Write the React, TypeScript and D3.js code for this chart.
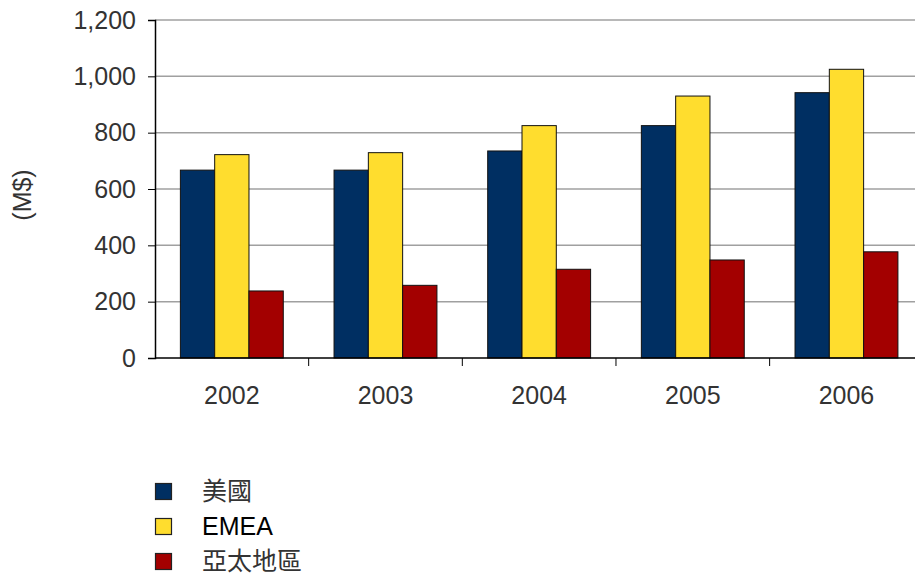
import React, { useRef, useEffect } from "react";
import * as d3 from "d3";

const years = ["2002", "2003", "2004", "2005", "2006"];
const seriesNames = ["美國", "EMEA", "亞太地區"];
const usValues = [667, 667, 735, 825, 942];
const emeaValues = [722, 729, 825, 930, 1025];
const apacValues = [238, 258, 315, 348, 377];
const yTicks = [0, 200, 400, 600, 800, 1000, 1200];
const colors = ["#002f62", "#ffdd2e", "#a30000"];

const W = 915;
const H = 583;

export default function App() {
  const svgRef = useRef<SVGSVGElement>(null);

  useEffect(() => {
    const svg = d3.select(svgRef.current);
    svg.selectAll("*").remove();

    const left = 155;
    const top = 20;
    const bottom = 358;
    const right = 923.3;
    const font = "'Liberation Sans', Arial, sans-serif";

    const x0 = d3.scaleBand().domain(years).range([left, right]).padding(0);
    const x1 = d3
      .scaleBand()
      .domain(seriesNames)
      .range([0, x0.bandwidth()])
      .paddingInner(0)
      .paddingOuter(0.74);
    const y = d3.scaleLinear().domain([0, 1200]).range([bottom, top]);

    const allValues = [usValues, emeaValues, apacValues];

    // grid lines
    svg
      .append("g")
      .selectAll("line")
      .data(yTicks.filter((d) => d > 0))
      .enter()
      .append("line")
      .attr("x1", left)
      .attr("x2", W)
      .attr("y1", (d) => y(d))
      .attr("y2", (d) => y(d))
      .attr("stroke", "#a0a0a0")
      .attr("stroke-width", 1.5);

    // bars
    years.forEach((yr, i) => {
      const g = svg.append("g").attr("transform", `translate(${x0(yr)},0)`);
      seriesNames.forEach((s, j) => {
        const v = allValues[j][i];
        g.append("rect")
          .attr("x", x1(s)!)
          .attr("y", y(v))
          .attr("width", x1.bandwidth())
          .attr("height", y(0) - y(v))
          .attr("fill", colors[j])
          .attr("stroke", "#111")
          .attr("stroke-width", 1);
      });
    });

    // y axis
    const yAxis = svg
      .append("g")
      .attr("transform", `translate(${left},0)`)
      .call(
        d3
          .axisLeft(y)
          .tickValues(yTicks)
          .tickSize(7)
          .tickPadding(12)
          .tickFormat(d3.format(","))
      );
    yAxis.select(".domain").attr("stroke", "#000").attr("stroke-width", 1.5);
    yAxis.selectAll(".tick line").attr("stroke", "#000");
    yAxis
      .selectAll(".tick text")
      .attr("fill", "#333")
      .style("font-family", font)
      .style("font-size", "25px");

    // x axis
    const xg = svg.append("g").attr("transform", `translate(0,${bottom})`);
    xg.append("line")
      .attr("x1", left)
      .attr("x2", W)
      .attr("stroke", "#000")
      .attr("stroke-width", 1.5);
    xg.selectAll(".xtick")
      .data(years.slice(1))
      .enter()
      .append("line")
      .attr("x1", (d) => x0(d)!)
      .attr("x2", (d) => x0(d)!)
      .attr("y1", 0)
      .attr("y2", 8)
      .attr("stroke", "#000");
    xg.selectAll(".xlabel")
      .data(years)
      .enter()
      .append("text")
      .attr("x", (d) => x0(d)! + x0.bandwidth() / 2)
      .attr("y", 46)
      .attr("text-anchor", "middle")
      .attr("fill", "#333")
      .style("font-family", font)
      .style("font-size", "25px")
      .text((d) => d);

    // y axis title
    svg
      .append("text")
      .attr("transform", "translate(31,195) rotate(-90)")
      .attr("text-anchor", "middle")
      .attr("fill", "#333")
      .style("font-family", font)
      .style("font-size", "25px")
      .text("(M$)");

    // legend
    const legend = svg.append("g").attr("transform", "translate(155,483)");
    seriesNames.forEach((s, j) => {
      legend
        .append("rect")
        .attr("x", 0.5)
        .attr("y", j * 35 + 0.5)
        .attr("width", 16)
        .attr("height", 16)
        .attr("fill", colors[j])
        .attr("stroke", "#222")
        .attr("stroke-width", 1.2);
      legend
        .append("text")
        .attr("x", 47)
        .attr("y", j * 35 + 17)
        .attr("fill", j === 1 ? "#000" : "#333")
        .style(
          "font-family",
          "'Liberation Sans', Arial, 'Noto Sans CJK TC', sans-serif"
        )
        .style("font-size", "25px")
        .text(s);
    });
  }, []);

  return (
    <svg
      ref={svgRef}
      width={W}
      height={H}
      style={{ position: "absolute", left: 0, top: 0, background: "#fff" }}
    />
  );
}
